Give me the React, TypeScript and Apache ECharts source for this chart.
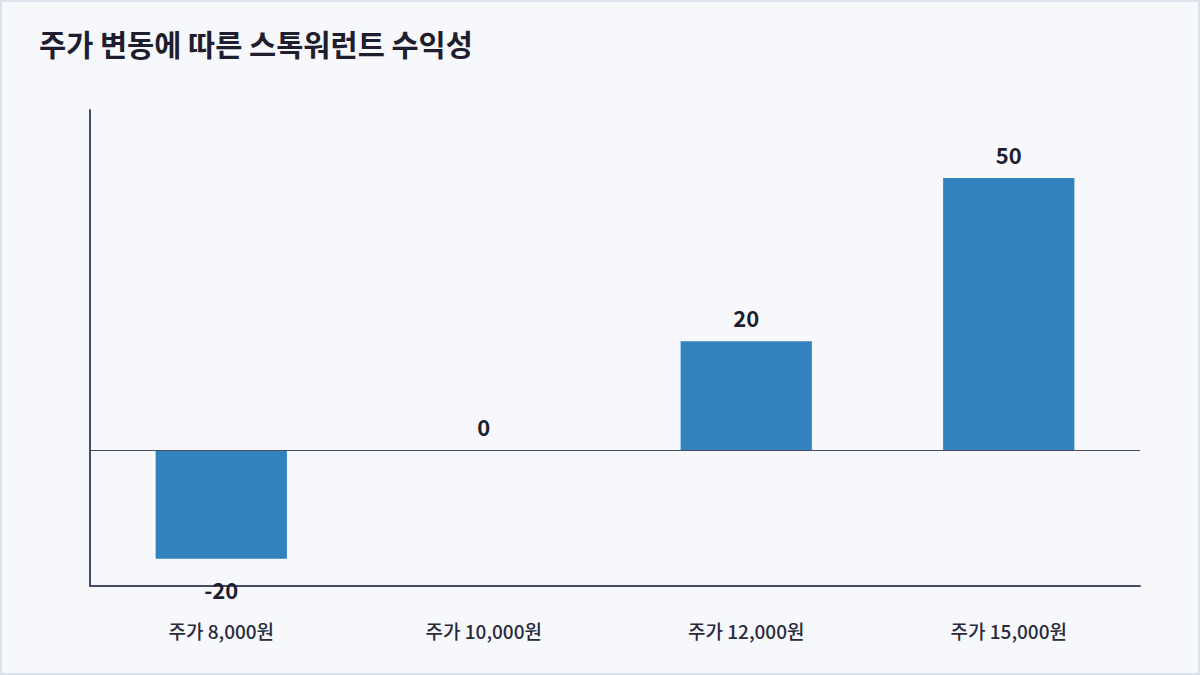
import { useEffect, useRef } from "react";
import * as echarts from "echarts";

const categories = ["주가 8,000원", "주가 10,000원", "주가 12,000원", "주가 15,000원"];
const profits = [-20, 0, 20, 50];

const App = () => {
  const chartRef = useRef<HTMLDivElement>(null);

  useEffect(() => {
    const chart = echarts.init(chartRef.current, null, { renderer: "svg" });
    const font = "'Noto Sans CJK KR', 'Noto Sans', sans-serif";

    chart.setOption({
      animation: false,
      backgroundColor: "#f7f8fc",
      textStyle: { fontFamily: font },
      title: {
        text: "주가 변동에 따른 스톡워런트 수익성",
        left: 32,
        top: 21,
        textStyle: { fontSize: 29.5, fontWeight: "bold", color: "#1e1e2e", fontFamily: font },
      },
      grid: { left: 88, right: 58, top: 108, bottom: 87, containLabel: false },
      xAxis: {
        type: "category",
        data: categories,
        position: "bottom",
        axisLine: { onZero: false, lineStyle: { color: "#4a4a66", width: 2 } },
        axisTick: { show: false },
        axisLabel: { color: "#2a2a3a", fontSize: 19, fontWeight: 500, margin: 35, fontFamily: font },
      },
      yAxis: {
        type: "value",
        min: -25,
        max: 62.5,
        axisLine: { show: true, lineStyle: { color: "#4a4a66", width: 2 } },
        axisTick: { show: false },
        axisLabel: { show: false },
        splitLine: { show: false },
      },
      series: [
        {
          type: "bar",
          barWidth: "50%",
          itemStyle: { color: "#3182bd" },
          data: profits.map((v) => ({
            value: v,
            label:
              v < 0
                ? { show: true, position: "bottom", distance: 19 }
                : { show: true, position: "top", distance: 13 },
          })),
          label: {
            color: "#1e1e2e",
            fontSize: 22,
            fontWeight: "bold",
            fontFamily: font,
          },
          markLine: {
            silent: true,
            symbol: "none",
            label: { show: false },
            lineStyle: { color: "#4a4a66", width: 1, type: "solid" },
            data: [{ yAxis: 0 }],
          },
        },
      ],
    });

    return () => {
      chart.dispose();
    };
  }, []);

  return (
    <div
      style={{
        position: "fixed",
        left: 0,
        top: 0,
        width: 1200,
        height: 675,
        boxSizing: "border-box",
        border: "2px solid #dde3ec",
        background: "#f7f8fc",
      }}
    >
      <div ref={chartRef} style={{ width: 1196, height: 671 }} />
    </div>
  );
};

export default App;
